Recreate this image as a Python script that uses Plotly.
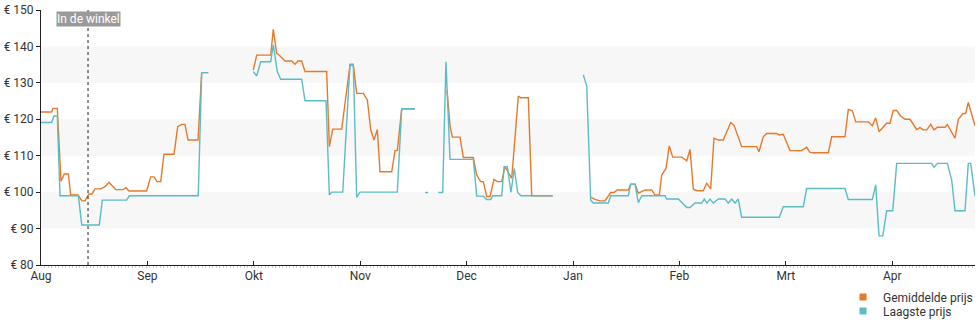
import plotly.graph_objects as go

# x positions are in month units (0 = start of Aug, 1 = Sep, ...)
months = ["Aug", "Sep", "Okt", "Nov", "Dec", "Jan", "Feb", "Mrt", "Apr"]
month_pos = [0, 1, 2, 3, 4, 5, 6, 7, 8]

avg_x = [0.0, 0.10, 0.113, 0.153, 0.188, 0.219, 0.257, 0.279, 0.348, 0.385, 0.414, 0.451, 0.479,
         0.508, 0.561, 0.602, 0.639, 0.702, 0.771, 0.799, 0.827, 0.993, 1.031, 1.062, 1.09, 1.125,
         1.156, 1.25, 1.285, 1.322, 1.353, 1.382, 1.476, 1.51, 1.572,
         None,
         1.995, 2.027, 2.159, 2.183, 2.215, 2.24, 2.293, 2.356, 2.387, 2.415, 2.45, 2.481, 2.685,
         2.71, 2.742, 2.826, 2.904, 2.935, 2.967, 3.029, 3.067, 3.099, 3.13, 3.161, 3.186, 3.296,
         3.327, 3.349, 3.39, 3.515,
         None,
         3.816, 3.844, 3.866, 3.938, 3.969, 4.063, 4.095, 4.132, 4.157, 4.189, 4.22, 4.257, 4.288,
         4.33, 4.361, 4.424, 4.486, 4.508, 4.58, 4.612, 4.809,
         None,
         5.166, 5.207, 5.254, 5.301, 5.354, 5.385, 5.416, 5.52, 5.542, 5.583, 5.614, 5.677, 5.74,
         5.771, 5.811, 5.834, 5.874, 5.905, 5.937, 6.022, 6.069, 6.1, 6.131, 6.163, 6.224, 6.256,
         6.294, 6.325, 6.366, 6.412, 6.482, 6.513, 6.585, 6.726, 6.748, 6.788, 6.82, 6.914, 6.936,
         6.976, 7.039, 7.149, 7.196, 7.227, 7.258, 7.399, 7.431, 7.556, 7.587, 7.625, 7.657, 7.775,
         7.813, 7.845, 7.876, 7.917, 7.948, 7.979, 8.01, 8.042, 8.079, 8.12, 8.167, 8.23, 8.261,
         8.292, 8.325, 8.362, 8.393, 8.424, 8.496, 8.518, 8.59, 8.621, 8.665, 8.69, 8.715, 8.778]
avg_y = [122, 122, 123, 123, 103, 105, 105, 99.2, 99.2, 97.6, 97.6, 99.5, 99.5,
         100.9, 100.9, 101.5, 102.7, 100.7, 100.7, 101.2, 100.3, 100.3, 104.2, 104.2, 102.9, 102.9,
         110.4, 110.4, 118, 118.6, 118.6, 114.3, 114.3, 132.8, 132.8,
         None,
         133.5, 137.6, 137.6, 144.7, 138.1, 137.6, 136, 136, 135.1, 136, 136, 133.1, 133.1,
         112.5, 117.3, 117.3, 134.9, 134.9, 127.1, 127.1, 125.3, 117.1, 114.3, 117.2, 105.6, 105.6,
         111.4, 111.4, 122.9, 122.9,
         None,
         128, 118.2, 115.1, 115.1, 109.5, 109.5, 104.7, 102.9, 102.9, 98.8, 98.8, 103.5, 102.9,
         102.9, 107, 103.8, 126.4, 125.9, 125.9, 99, 99,
         None,
         98.6, 98, 97.6, 97.6, 99.9, 99.9, 100.6, 100.6, 102.2, 102.2, 99.7, 100.6, 100.6,
         99.2, 99.2, 104.7, 106.5, 112.7, 109.6, 109.6, 108.6, 111.7, 100.8, 100.4, 100.4, 102.4,
         100.9, 114.8, 114.3, 114.3, 119.1, 118.4, 112.5, 112.5, 111.1, 115.2, 116.1, 116.1, 115.7,
         115.9, 111.4, 111.4, 112.3, 110.9, 110.8, 110.8, 115.2, 115.2, 122.7, 122.3, 119.3, 119.3,
         118.2, 120.4, 116.6, 117.8, 118.9, 118.9, 122.4, 122.4, 120.9, 120, 120, 117.2, 117.7,
         117.1, 117.1, 118.6, 117.1, 117.8, 117.8, 118.6, 114.8, 120, 121.6, 121.6, 124.6, 118.2]

low_x = [0.0, 0.10, 0.122, 0.153, 0.179, 0.351, 0.383, 0.548, 0.576, 0.805, 0.83, 1.478, 1.51, 1.572,
         None,
         1.995, 2.027, 2.065, 2.159, 2.183, 2.221, 2.253, 2.45, 2.481, 2.679, 2.71, 2.732, 2.836,
         2.904, 2.935, 2.967, 2.998, 3.349, 3.39, 3.515,
         None,
         3.609, 3.64,
         None,
         3.734, 3.775, 3.806, 3.844, 4.063, 4.095, 4.157, 4.189, 4.227, 4.245, 4.33, 4.352, 4.383,
         4.417, 4.448, 4.48, 4.511, 4.809,
         None,
         5.097, 5.129, 5.166, 5.191, 5.332, 5.354, 5.52, 5.542, 5.583, 5.614, 5.646, 5.865, 5.881,
         5.99, 6.069, 6.1, 6.147, 6.21, 6.234, 6.259, 6.288, 6.319, 6.366, 6.429, 6.459, 6.491,
         6.523, 6.553, 6.585, 6.939, 6.976, 7.164, 7.196, 7.556, 7.587, 7.813, 7.845, 7.876, 7.911,
         7.948, 8.005, 8.042, 8.371, 8.393, 8.424, 8.518, 8.559, 8.59, 8.684, 8.715, 8.738, 8.778]
low_y = [119.1, 119.1, 120.9, 120.9, 99, 99, 91, 91, 97.8, 97.8, 99, 99, 132.8, 132.8,
         None,
         133.1, 131.9, 135.8, 135.8, 140.4, 133.1, 131, 131, 125.1, 125.1, 99.2, 100, 100,
         135.1, 135.1, 98.6, 100, 100, 122.9, 122.9,
         None,
         99.9, 99.9,
         None,
         99.9, 99.9, 135.8, 109, 109, 98.9, 98.9, 98, 98, 99, 99, 107, 107,
         99.9, 106.5, 99.9, 99, 99,
         None,
         132.2, 129.1, 97.8, 97, 97, 99, 99, 102.2, 102.2, 97.1, 99, 99, 98.1,
         98.1, 95.8, 95.8, 97, 97, 98.1, 97, 98.1, 97, 98.1, 98.1, 97, 98.1,
         97, 98.1, 93.1, 93.1, 96, 96, 101, 101, 98, 98, 102, 88, 88,
         94.9, 94.9, 107.9, 107.9, 106.8, 107.9, 107.9, 103.3, 94.9, 94.9, 107.9, 107.9, 98.9]

y_ticks = [80, 90, 100, 110, 120, 130, 140, 150]
y_labels = ["€ %d" % v for v in y_ticks]
band_ranges = [(90, 100), (110, 120), (130, 140)]
store_pos = 0.442
names = ["Gemiddelde prijs", "Laagste prijs"]
colors = ["#e8792a", "#5bbcc6"]

fig = go.Figure()
fig.add_trace(go.Scatter(x=avg_x, y=avg_y, mode="lines", line=dict(color=colors[0], width=1.4),
                         showlegend=False, connectgaps=False, hoverinfo="skip"))
fig.add_trace(go.Scatter(x=low_x, y=low_y, mode="lines", line=dict(color=colors[1], width=1.4),
                         showlegend=False, connectgaps=False, hoverinfo="skip"))
for n, c, lg in zip(names, colors, ["legend", "legend2"]):
    fig.add_trace(go.Scatter(x=[None], y=[None], mode="markers", name=n, legend=lg,
                             marker=dict(symbol="square", size=7, color=c, line=dict(width=0))))

shapes = []
for lo, hi in band_ranges:
    shapes.append(dict(type="rect", xref="paper", yref="y", x0=0, x1=1, y0=lo, y1=hi,
                       fillcolor="#f7f7f7", line=dict(width=0), layer="below"))
shapes.append(dict(type="line", xref="x", yref="paper", x0=store_pos, x1=store_pos, y0=0, y1=1,
                   line=dict(color="#222", width=1, dash="dot")))

legend_common = dict(xanchor="left", yanchor="top", bgcolor="rgba(0,0,0,0)",
                     font=dict(size=12, color="#333"), itemwidth=30, itemsizing="trace")

fig.update_layout(
    width=980, height=325,
    margin=dict(l=41, r=5, t=10, b=60, autoexpand=False),
    paper_bgcolor="white", plot_bgcolor="white",
    font=dict(family="Roboto", size=12, color="#333"),
    shapes=shapes,
    annotations=[dict(x=store_pos, y=150, xref="x", yref="y", text="In de winkel",
                      showarrow=False, yshift=-9, font=dict(color="white", size=12, family="Roboto"),
                      bgcolor="#9a9a9a", borderpad=0)],
    legend=dict(x=0.8587, y=-0.069, **legend_common),
    legend2=dict(x=0.8587, y=-0.124, **legend_common),
    xaxis=dict(range=[0, 8.778], tickvals=month_pos, ticktext=months, showgrid=False,
               zeroline=False, showline=True, linecolor="#222", linewidth=1,
               ticks="inside", ticklen=4, tickcolor="#222",
               minor=dict(dtick=1/30.4, ticks="outside", ticklen=2, tickcolor="#ccc", showgrid=False),
               tickfont=dict(size=12, color="#333")),
    yaxis=dict(range=[80, 150], tickvals=y_ticks, ticktext=y_labels, showgrid=False,
               zeroline=False, showline=True, linecolor="#222", linewidth=1,
               ticks="outside", ticklen=4, tickcolor="#222", tickfont=dict(size=12, color="#333")),
)

fig.write_html("out.html")
